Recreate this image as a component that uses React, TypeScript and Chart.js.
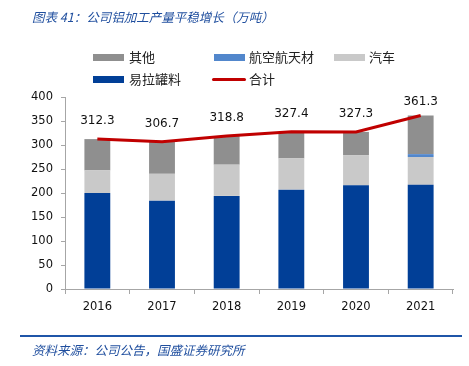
import React, { useEffect, useRef } from "react";
import { Chart, registerables } from "chart.js";

Chart.register(...registerables);

const years = ["2016", "2017", "2018", "2019", "2020", "2021"];
const canStock = [200, 184, 194, 207, 216, 217];
const auto = [47, 56, 65, 65, 63, 58];
const aero = [0, 0, 0, 0, 0, 6];
const other = [65.3, 66.7, 59.8, 55.4, 48.3, 80.3];
const total = [312.3, 306.7, 318.8, 327.4, 327.3, 361.3];
const yTicks = [0, 50, 100, 150, 200, 250, 300, 350, 400];

const title = "图表 41：公司铝加工产量平稳增长（万吨）";
const source = "资料来源：公司公告，国盛证券研究所";

const C_BLUE = "#013f97";
const C_LGRAY = "#c9c9c9";
const C_DGRAY = "#8f8f8f";
const C_AERO = "#5287cc";
const C_RED = "#c00000";

const labelPlugin = {
  id: "totLabels",
  afterDatasetsDraw(chart: any) {
    const ctx = chart.ctx;
    const idx = chart.data.datasets.findIndex((d: any) => d.type === "line");
    const meta = chart.getDatasetMeta(idx);
    ctx.save();
    ctx.font = "12px 'DejaVu Sans'";
    ctx.fillStyle = "#111";
    ctx.textAlign = "center";
    ctx.textBaseline = "middle";
    meta.data.forEach((p: any, i: number) => {
      const off = i === meta.data.length - 1 ? 14 : 18;
      ctx.fillText(total[i].toFixed(1), p.x, p.y - off);
    });
    ctx.restore();
  },
};

export default function App() {
  const ref = useRef<HTMLCanvasElement>(null);
  useEffect(() => {
    const chart = new Chart(ref.current!, {
      type: "bar",
      data: {
        labels: years,
        datasets: [
          { type: "line", label: "合计", data: total, borderColor: C_RED, backgroundColor: C_RED, borderWidth: 3, pointRadius: 0, tension: 0, order: 0 } as any,
          { label: "易拉罐料", data: canStock, backgroundColor: C_BLUE, stack: "s", order: 1 },
          { label: "汽车", data: auto, backgroundColor: C_LGRAY, stack: "s", order: 1 },
          { label: "航空航天材", data: aero, backgroundColor: C_AERO, stack: "s", order: 1 },
          { label: "其他", data: other, backgroundColor: C_DGRAY, stack: "s", order: 1 },
        ],
      },
      options: {
        animation: false,
        responsive: false,
        devicePixelRatio: 1,
        layout: { padding: { left: 0, top: 97, right: 16, bottom: 47 } },
        plugins: { legend: { display: false }, tooltip: { enabled: false } },
        datasets: { bar: { categoryPercentage: 1, barPercentage: 0.4 } },
        scales: {
          x: {
            stacked: true,
            offset: true,
            grid: { offset: true, drawOnChartArea: false, color: "#a6a6a6", tickLength: 5, tickColor: "#a6a6a6" },
            border: { color: "#a6a6a6", width: 1 },
            ticks: { color: "#111", font: { family: "DejaVu Sans", size: 11.5 }, padding: 6, maxRotation: 0 },
            afterFit: (s: any) => { s.height = 30; },
          },
          y: {
            stacked: true,
            min: 0,
            max: 400,
            afterBuildTicks: (s: any) => { s.ticks = yTicks.map((v) => ({ value: v })); },
            grid: { drawOnChartArea: false, color: "#a6a6a6", tickLength: 4, tickColor: "#a6a6a6" },
            border: { color: "#a6a6a6", width: 1 },
            ticks: { color: "#111", font: { family: "DejaVu Sans", size: 11.5 }, padding: 8 },
            afterFit: (s: any) => { s.width = 65; },
          },
        },
      },
      plugins: [labelPlugin],
    });
    return () => chart.destroy();
  }, []);

  const legendText: React.CSSProperties = {
    position: "absolute",
    fontFamily: "'Noto Sans CJK SC'",
    fontSize: 13,
    color: "#222",
    lineHeight: "16px",
  };
  const box = (x: number, y: number, color: string, h = 7) => (
    <div style={{ position: "absolute", left: x, top: y - h / 2, width: 31, height: h, background: color }} />
  );
  const txt = (x: number, y: number, s: string) => (
    <div style={{ ...legendText, left: x, top: y - 8 }}>{s}</div>
  );

  return (
    <div style={{ position: "fixed", left: 0, top: 0, width: 469, height: 366, background: "#fff", overflow: "hidden" }}>
      <canvas ref={ref} width={469} height={366} style={{ position: "absolute", left: 0, top: 0, width: 469, height: 366 }} />
      <div style={{ position: "absolute", left: 32, top: 8, fontFamily: "'Noto Sans CJK SC'", fontStyle: "italic", fontSize: 12.5, color: "#1f4e9e", lineHeight: "18px", whiteSpace: "nowrap" }}>{title}</div>
      {box(93, 57, C_DGRAY)}
      {txt(129, 57, "其他")}
      {box(214, 57, C_AERO)}
      {txt(249, 57, "航空航天材")}
      {box(334, 57, C_LGRAY)}
      {txt(369, 57, "汽车")}
      {box(93, 79, C_BLUE)}
      {txt(129, 79, "易拉罐料")}
      <div style={{ position: "absolute", left: 212, top: 77.5, width: 34, height: 3, borderRadius: 2, background: C_RED }} />
      {txt(249, 79, "合计")}
      <div style={{ position: "absolute", left: 20, top: 335, width: 442, height: 2, background: "#1f55a8" }} />
      <div style={{ position: "absolute", left: 32, top: 341, fontFamily: "'Noto Sans CJK SC'", fontStyle: "italic", fontSize: 12.5, color: "#1f4e9e", lineHeight: "18px", whiteSpace: "nowrap" }}>{source}</div>
    </div>
  );
}
